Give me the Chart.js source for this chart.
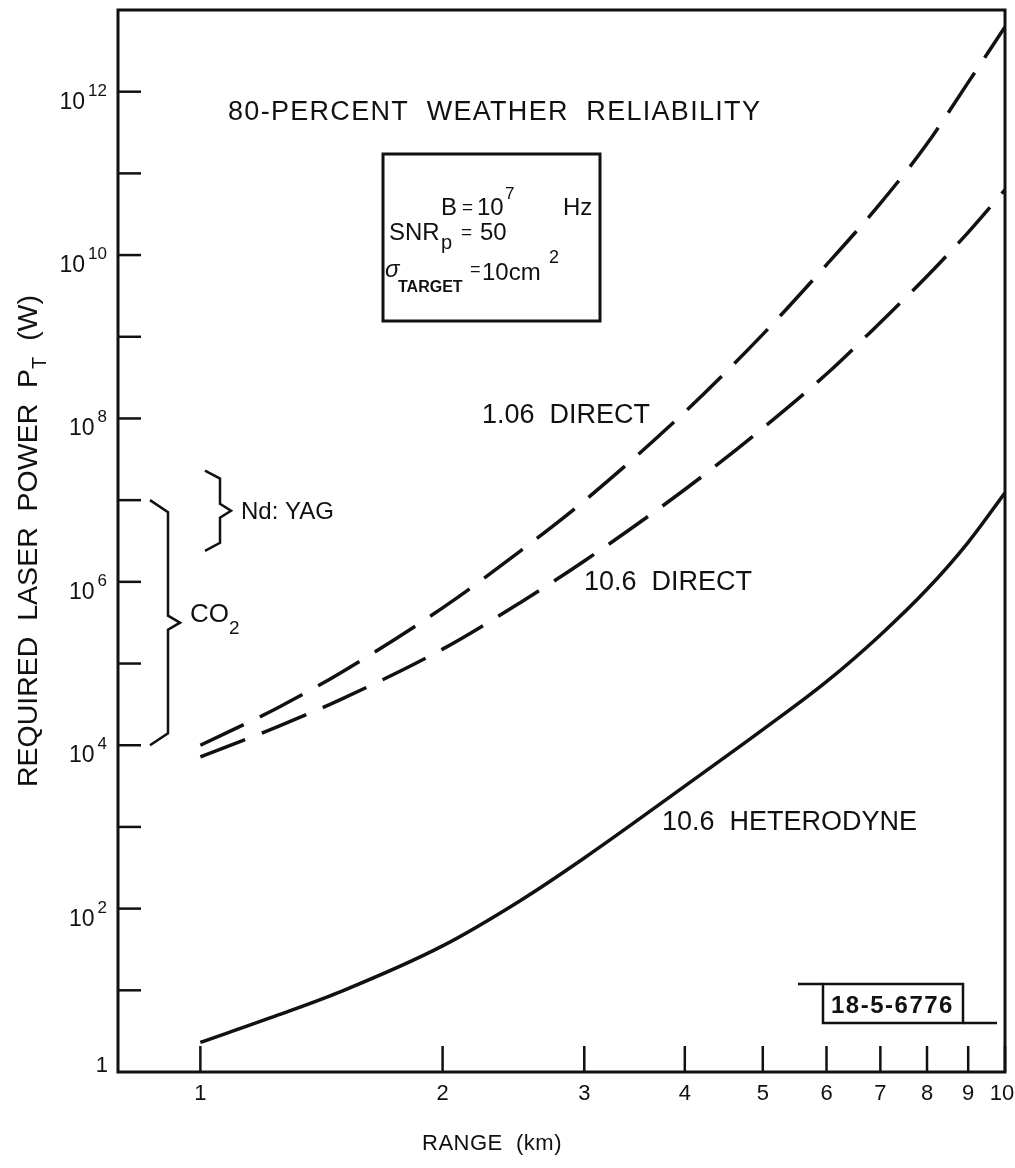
<!DOCTYPE html>
<html>
<head>
<meta charset="utf-8">
<title>Required laser power vs range</title>
<script src="https://cdn.jsdelivr.net/npm/chart.js@4.4.1/dist/chart.umd.min.js"></script>
<style>
  html, body { margin: 0; padding: 0; background: #fff; }
  #wrap { width: 1015px; height: 1168px; position: relative; }
</style>
</head>
<body>
<div id="wrap"><canvas id="powerChart"></canvas></div>
<script>
// range (km), shared by all three curves
const rangeKm = [1, 1.25, 1.5, 2, 2.5, 3, 4, 5, 6, 7, 8, 9, 10];

// required transmitter power P_T (W)
const ndYagDirect = [1.0e4, 2.9e4, 7.9e4, 4.8e5, 2.4e6, 9.8e6, 1.2e8, 1.07e9, 7.6e9, 4.3e10, 2.3e11, 1.3e12, 6.2e12];
const co2Direct = [7.2e3, 1.7e4, 3.7e4, 1.5e5, 5.6e5, 1.8e6, 1.35e7, 7.6e7, 3.5e8, 1.5e9, 5.5e9, 1.9e10, 6.3e10];
const co2Heterodyne = [2.3, 5.0, 9.8, 35, 126, 417, 3.16e3, 1.55e4, 6.0e4, 2.24e5, 8.1e5, 3.05e6, 1.23e7];

// axes
const rangeTicks = [1, 2, 3, 4, 5, 6, 7, 8, 9, 10];
const powerDecades = [1e1, 1e2, 1e3, 1e4, 1e5, 1e6, 1e7, 1e8, 1e9, 1e10, 1e11, 1e12];
const powerLabelExps = [2, 4, 6, 8, 10, 12];

// available laser power bands (W)
const co2Band = [1e4, 1e7];
const ndYagBand = [2.4e6, 2.3e7];

const FONT = '"Liberation Sans", Arial, sans-serif';
const INK = '#111';

function setFont(ctx, size, style) {
  ctx.font = (style ? style + ' ' : '') + size + 'px ' + FONT;
}

// text pieces at their own x / baseline: [text, x, y, size, style, spacing]
function drawPieces(ctx, pieces) {
  ctx.textAlign = 'left';
  ctx.textBaseline = 'alphabetic';
  pieces.forEach(p => {
    setFont(ctx, p[3], p[4]);
    ctx.letterSpacing = (p[5] || 0) + 'px';
    ctx.fillText(p[0], p[1], p[2]);
  });
  ctx.letterSpacing = '0px';
}

function drawBrace(ctx, xEnd, xSpine, xTip, yTop, yBot, arm) {
  const yMid = (yTop + yBot) / 2;
  ctx.beginPath();
  ctx.moveTo(xEnd, yTop);
  ctx.lineTo(xSpine, yTop + arm);
  ctx.lineTo(xSpine, yMid - 7);
  ctx.lineTo(xTip, yMid);
  ctx.lineTo(xSpine, yMid + 7);
  ctx.lineTo(xSpine, yBot - arm);
  ctx.lineTo(xEnd, yBot);
  ctx.stroke();
}

const plotFurniture = {
  id: 'plotFurniture',
  afterDraw(chart) {
    const ctx = chart.ctx;
    const area = chart.chartArea;
    const xs = chart.scales.x;
    const ys = chart.scales.y;
    ctx.save();
    ctx.strokeStyle = INK;
    ctx.fillStyle = INK;
    ctx.lineCap = 'butt';

    // frame
    ctx.lineWidth = 3;
    ctx.strokeRect(area.left, area.top, area.right - area.left, area.bottom - area.top);

    // power ticks, pointing inward
    ctx.lineWidth = 2.5;
    powerDecades.forEach(v => {
      const y = ys.getPixelForValue(v);
      ctx.beginPath();
      ctx.moveTo(area.left, y);
      ctx.lineTo(area.left + 23, y);
      ctx.stroke();
    });
    // range ticks, pointing up
    rangeTicks.forEach(v => {
      const x = xs.getPixelForValue(v);
      ctx.beginPath();
      ctx.moveTo(x, area.bottom);
      ctx.lineTo(x, area.bottom - 26);
      ctx.stroke();
    });

    // power labels: 1, 10^2 ... 10^12
    ctx.textBaseline = 'alphabetic';
    setFont(ctx, 22);
    ctx.textAlign = 'right';
    ctx.fillText('1', area.left - 10, ys.getPixelForValue(1));
    powerLabelExps.forEach(e => {
      const y = ys.getPixelForValue(Math.pow(10, e));
      const sup = String(e);
      setFont(ctx, 17);
      ctx.textAlign = 'right';
      ctx.fillText(sup, area.left - 11, y + 4);
      const supW = ctx.measureText(sup).width;
      setFont(ctx, 23);
      ctx.fillText('10', area.left - 14 - supW, y + 17);
    });

    // range labels
    setFont(ctx, 22);
    ctx.textAlign = 'center';
    rangeTicks.forEach(v => {
      const x = Math.min(xs.getPixelForValue(v), 1002);
      ctx.fillText(String(v), x, area.bottom + 28);
    });

    // axis titles
    setFont(ctx, 22);
    ctx.letterSpacing = '0.5px';
    ctx.fillText('RANGE  (km)', 492, 1150);
    ctx.letterSpacing = '0px';

    ctx.save();
    ctx.translate(37, (area.top + area.bottom) / 2);
    ctx.rotate(-Math.PI / 2);
    const yTitle = [['REQUIRED  LASER  POWER  P', 28.5], ['T', 20, 9], ['  (W)', 28.5]];
    let total = 0;
    yTitle.forEach(p => { setFont(ctx, p[1]); total += ctx.measureText(p[0]).width; });
    let cx = -total / 2;
    ctx.textAlign = 'left';
    yTitle.forEach(p => {
      setFont(ctx, p[1]);
      ctx.fillText(p[0], cx, p[2] || 0);
      cx += ctx.measureText(p[0]).width;
    });
    ctx.restore();

    // header and condition box
    drawPieces(ctx, [['80-PERCENT  WEATHER  RELIABILITY', 228, 120, 27, '', 1.3]]);
    ctx.lineWidth = 3;
    ctx.strokeRect(383, 154, 217, 167);
    drawPieces(ctx, [
      ['B', 441, 215, 24], ['=', 462, 213, 19], ['10', 477, 215, 24], ['7', 505, 199, 17], ['Hz', 563, 215, 24],
      ['SNR', 389, 240, 24], ['p', 441, 249, 20], ['=', 461, 238, 19], ['50', 480, 240, 24],
      ['\u03c3', 385, 277, 24, 'italic'], ['TARGET', 398, 292, 16, 'bold'], ['=', 470, 275, 18],
      ['10cm', 482, 280, 24], ['2', 549, 263, 18]
    ]);

    // curve labels
    drawPieces(ctx, [
      ['1.06  DIRECT', 482, 423, 27],
      ['10.6  DIRECT', 584, 590, 27],
      ['10.6  HETERODYNE', 662, 830, 27]
    ]);

    // laser bands
    ctx.lineWidth = 2.5;
    drawBrace(ctx, 150, 168, 180, ys.getPixelForValue(co2Band[1]), ys.getPixelForValue(co2Band[0]), 12);
    drawBrace(ctx, 205, 220, 231, ys.getPixelForValue(ndYagBand[1]), ys.getPixelForValue(ndYagBand[0]), 8);
    drawPieces(ctx, [
      ['CO', 190, 622, 26], ['2', 229, 634, 19],
      ['Nd: YAG', 241, 519, 24]
    ]);

    // drawing number
    ctx.lineWidth = 2.5;
    ctx.strokeRect(823, 984, 140, 39);
    ctx.beginPath();
    ctx.moveTo(798, 984); ctx.lineTo(823, 984);
    ctx.moveTo(963, 1023); ctx.lineTo(997, 1023);
    ctx.stroke();
    drawPieces(ctx, [['18-5-6776', 831, 1013, 24, 'bold', 1.5]]);

    ctx.restore();
  }
};

function series(values) {
  return rangeKm.map((r, i) => ({ x: r, y: values[i] }));
}

new Chart(document.getElementById('powerChart'), {
  type: 'line',
  data: {
    datasets: [
      { label: '1.06 DIRECT', data: series(ndYagDirect), borderDash: [48, 18] },
      { label: '10.6 DIRECT', data: series(co2Direct), borderDash: [48, 18] },
      { label: '10.6 HETERODYNE', data: series(co2Heterodyne) }
    ]
  },
  options: {
    responsive: true,
    maintainAspectRatio: false,
    animation: false,
    layout: { padding: { left: 118, right: 10, top: 10, bottom: 96 } },
    plugins: { legend: { display: false }, tooltip: { enabled: false } },
    elements: {
      point: { radius: 0 },
      line: { borderColor: INK, borderWidth: 3.5, cubicInterpolationMode: 'monotone', fill: false }
    },
    scales: {
      x: { type: 'logarithmic', min: 0.79, max: 10, display: false },
      y: { type: 'logarithmic', min: 1, max: 1e13, display: false }
    }
  },
  plugins: [plotFurniture]
});
</script>
</body>
</html>
